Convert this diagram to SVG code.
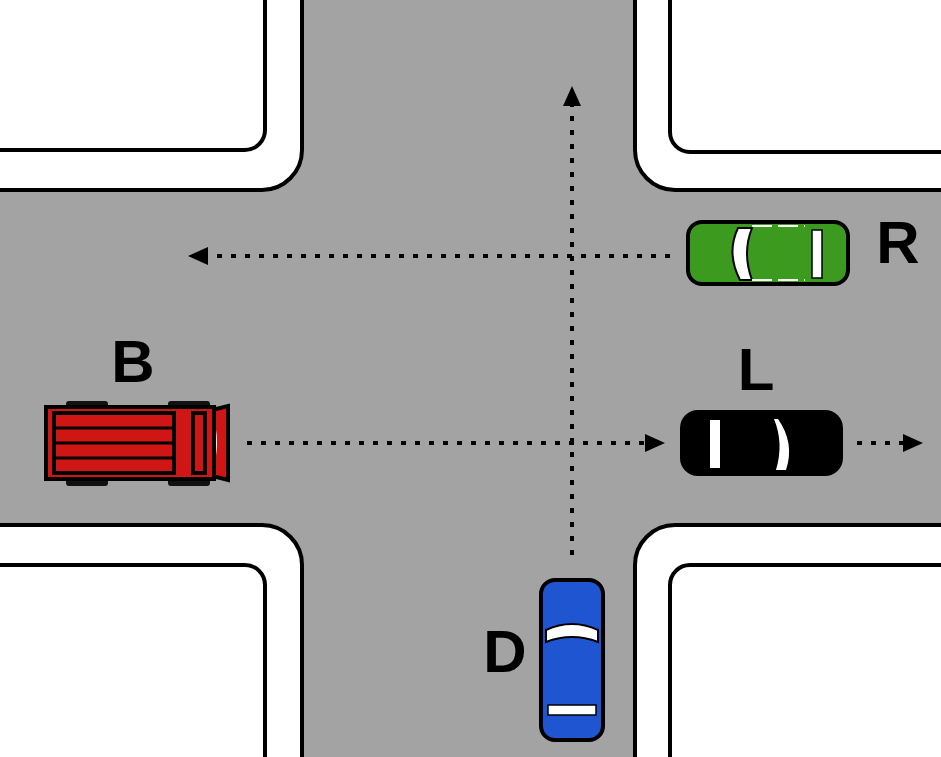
<svg xmlns="http://www.w3.org/2000/svg" width="941" height="757" viewBox="0 0 941 757">
<style>
.road{fill:#a3a3a3}
.walk{fill:#fff;stroke:#000;stroke-width:4}
.dot{stroke:#000;stroke-width:4;stroke-dasharray:5 9;fill:none}
.lbl{font-family:"Liberation Sans",Arial,sans-serif;font-weight:bold;font-size:60px;fill:#000}
.ol{stroke:#000;stroke-width:4}
</style>
<defs>
<marker id="ah" markerWidth="5" markerHeight="4.5" refX="0" refY="2.25" orient="auto" markerUnits="strokeWidth"><path d="M0,0 L5,2.25 L0,4.5z" fill="#000"/></marker>
</defs>
<rect width="941" height="757" class="road"/>
<g id="corners">
<path class="walk" d="M-5,-5 H302 V150 A40,40 0 0 1 262,190 H-5Z"/>
<path d="M-5,-5 H265 V130 A20,20 0 0 1 245,150 H-5Z" class="walk"/>
<path class="walk" d="M946,-5 H635 V150 A40,40 0 0 0 675,190 H946Z"/>
<path d="M946,-5 H670 V132 A20,20 0 0 0 690,152 H946Z" class="walk"/>
<path class="walk" d="M-5,762 H302 V565 A40,40 0 0 0 262,525 H-5Z"/>
<path d="M-5,762 H265 V585 A20,20 0 0 0 245,565 H-5Z" class="walk"/>
<path class="walk" d="M946,762 H635 V565 A40,40 0 0 1 675,525 H946Z"/>
<path d="M946,762 H670 V585 A20,20 0 0 1 690,565 H946Z" class="walk"/>
</g>
<g id="connectors">
<path class="dot" d="M572,555 V106" marker-end="url(#ah)"/>
<path class="dot" d="M670,256 H208" marker-end="url(#ah)"/>
<path class="dot" d="M247,443 H645" marker-end="url(#ah)"/>
<path class="dot" d="M857,443 H903" marker-end="url(#ah)"/>
</g>
<g id="truck-B">
<rect x="66" y="401" width="42" height="10" rx="3" fill="#111"/>
<rect x="168" y="401" width="42" height="10" rx="3" fill="#111"/>
<rect x="66" y="476" width="42" height="10" rx="3" fill="#111"/>
<rect x="168" y="476" width="42" height="10" rx="3" fill="#111"/>
<path d="M212,410 L228,406 V480 L212,476Z" fill="#d01515" class="ol"/>
<path d="M212,414 Q222,443 212,472Z" fill="#fff"/>
<rect x="46" y="407" width="168" height="72" fill="#d01515" class="ol"/>
<rect x="54" y="413" width="120" height="60" fill="#d01515" class="ol" stroke-width="3"/>
<path d="M54,428 H174 M54,443 H174 M54,458 H174" stroke="#000" stroke-width="3"/>
<rect x="193" y="413" width="12" height="60" fill="#d01515" class="ol" stroke-width="3"/>
<text class="lbl" x="133" y="382" text-anchor="middle">B</text>
</g>
<g id="car-R">
<rect x="688" y="222" width="160" height="62" rx="14" fill="#3c9a1e" class="ol"/>
<path d="M738,228 Q726,253 740,280 L752,280 Q742,253 752,228Z" fill="#fff" stroke="#000" stroke-width="2"/>
<rect x="812" y="230" width="10" height="48" fill="#fff" stroke="#000" stroke-width="1.5"/>
<path d="M752,226 H805 M752,280 H805" stroke="#fff" stroke-width="2" stroke-dasharray="20 6"/>
<text class="lbl" x="898" y="263" text-anchor="middle">R</text>
</g>
<g id="car-L">
<rect x="680" y="410" width="163" height="66" rx="18" fill="#000"/>
<rect x="710" y="420" width="10" height="48" fill="#fff"/>
<path d="M778,419 Q795,443 786,470 L776,470 Q784,443 774,419Z" fill="#fff"/>
<text class="lbl" x="756" y="390" text-anchor="middle">L</text>
</g>
<g id="car-D">
<rect x="541" y="580" width="62" height="160" rx="14" fill="#1f55d0" class="ol"/>
<path d="M546,630 Q572,618 598,630 L598,642 Q572,632 546,642Z" fill="#fff" stroke="#000" stroke-width="2"/>
<rect x="548" y="705" width="48" height="10" fill="#fff" stroke="#000" stroke-width="1.5"/>
<text class="lbl" x="505" y="672" text-anchor="middle">D</text>
</g>
</svg>
